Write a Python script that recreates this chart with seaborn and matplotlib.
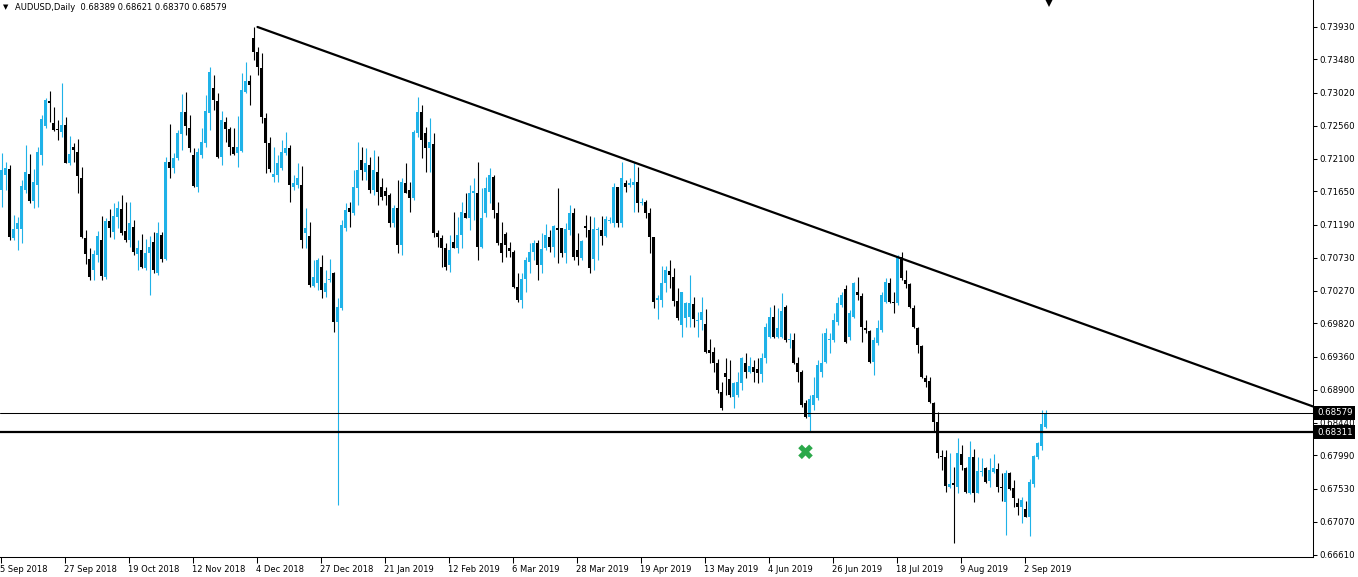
import numpy as np
import matplotlib
matplotlib.use("Agg")
import matplotlib.pyplot as plt
import matplotlib.transforms as mtransforms
import seaborn as sns

# AUDUSD daily candles (6 Sep 2018 .. 10 Sep 2019)
opens = [
    0.7167, 0.7188, 0.7196, 0.7100, 0.7113, 0.7113, 0.7167, 0.7189, 0.7152, 0.7174,
    0.7216, 0.7256, 0.7290, 0.7260, 0.7252, 0.7247, 0.7257, 0.7204, 0.7227, 0.7220,
    0.7184, 0.7100, 0.7071, 0.7056, 0.7077, 0.7098, 0.7046, 0.7124, 0.7109, 0.7130,
    0.7141, 0.7110, 0.7098, 0.7116, 0.7078, 0.7084, 0.7059, 0.7080, 0.7095, 0.7052,
    0.7105, 0.7071, 0.7206, 0.7198, 0.7211, 0.7245, 0.7275, 0.7253, 0.7216, 0.7171,
    0.7216, 0.7232, 0.7274, 0.7308, 0.7290, 0.7213, 0.7261, 0.7252, 0.7227, 0.7218,
    0.7221, 0.7303, 0.7318, 0.7378, 0.7358, 0.7336, 0.7267, 0.7232, 0.7185, 0.7188,
    0.7198, 0.7218, 0.7225, 0.7171, 0.7174, 0.7174, 0.7107, 0.7103, 0.7034, 0.7038,
    0.7060, 0.7026, 0.7042, 0.7052, 0.6984, 0.7003, 0.7114, 0.7142, 0.7135, 0.7170,
    0.7209, 0.7192, 0.7202, 0.7167, 0.7192, 0.7171, 0.7166, 0.7160, 0.7121, 0.7142,
    0.7091, 0.7177, 0.7167, 0.7156, 0.7246, 0.7275, 0.7246, 0.7225, 0.7231, 0.7107,
    0.7100, 0.7087, 0.7063, 0.7095, 0.7087, 0.7105, 0.7135, 0.7128, 0.7163, 0.7163,
    0.7088, 0.7135, 0.7164, 0.7185, 0.7135, 0.7094, 0.7106, 0.7087, 0.7081, 0.7033,
    0.7015, 0.7044, 0.7067, 0.7081, 0.7094, 0.7063, 0.7087, 0.7102, 0.7088, 0.7114,
    0.7114, 0.7080, 0.7112, 0.7135, 0.7084, 0.7073, 0.7117, 0.7112, 0.7071, 0.7112,
    0.7112, 0.7103, 0.7124, 0.7121, 0.7171, 0.7121, 0.7177, 0.7174, 0.7174, 0.7178,
    0.7149, 0.7150, 0.7135, 0.7102, 0.7015, 0.7015, 0.7038, 0.7055, 0.7046, 0.7013,
    0.6980, 0.6990, 0.6991, 0.7009, 0.6985, 0.6987, 0.6981, 0.6945, 0.6942, 0.6927,
    0.6887, 0.6913, 0.6905, 0.6880, 0.6883, 0.6899, 0.6927, 0.6915, 0.6922, 0.6919,
    0.6912, 0.6934, 0.6963, 0.6991, 0.6963, 0.6963, 0.7005, 0.6959, 0.6959, 0.6927,
    0.6915, 0.6872, 0.6852, 0.6869, 0.6879, 0.6915, 0.6928, 0.6959, 0.6959, 0.6984,
    0.7008, 0.7030, 0.6963, 0.6991, 0.7026, 0.7020, 0.6976, 0.6971, 0.6928, 0.6955,
    0.6973, 0.7012, 0.7038, 0.7012, 0.7010, 0.7074, 0.7042, 0.7037, 0.7003, 0.6976,
    0.6951, 0.6906, 0.6902, 0.6872, 0.6845, 0.6798, 0.6797, 0.6755, 0.6761, 0.6755,
    0.6801, 0.6782, 0.6747, 0.6797, 0.6747, 0.6776, 0.6782, 0.6764, 0.6776, 0.6780,
    0.6755, 0.6734, 0.6775, 0.6754, 0.6733, 0.6728, 0.6725, 0.6714, 0.6759, 0.6797,
    0.6812, 0.68389,
]
highs = [
    0.7218, 0.7206, 0.7202, 0.7132, 0.7130, 0.7181, 0.7229, 0.7217, 0.7196, 0.7227,
    0.7271, 0.7295, 0.7304, 0.7282, 0.7264, 0.7315, 0.7268, 0.7242, 0.7232, 0.7238,
    0.7199, 0.7112, 0.7087, 0.7084, 0.7110, 0.7131, 0.7128, 0.7141, 0.7149, 0.7152,
    0.7160, 0.7150, 0.7150, 0.7125, 0.7098, 0.7106, 0.7099, 0.7103, 0.7109, 0.7123,
    0.7109, 0.7213, 0.7259, 0.7218, 0.7250, 0.7300, 0.7303, 0.7271, 0.7225, 0.7225,
    0.7253, 0.7299, 0.7338, 0.7327, 0.7301, 0.7277, 0.7268, 0.7254, 0.7253, 0.7270,
    0.7329, 0.7344, 0.7327, 0.7393, 0.7365, 0.7357, 0.7274, 0.7240, 0.7227, 0.7216,
    0.7236, 0.7247, 0.7229, 0.7188, 0.7204, 0.7200, 0.7142, 0.7123, 0.7070, 0.7073,
    0.7077, 0.7056, 0.7071, 0.7053, 0.7017, 0.7125, 0.7149, 0.7150, 0.7195, 0.7234,
    0.7227, 0.7225, 0.7213, 0.7222, 0.7214, 0.7184, 0.7171, 0.7163, 0.7146, 0.7181,
    0.7184, 0.7204, 0.7178, 0.7250, 0.7296, 0.7285, 0.7254, 0.7267, 0.7246, 0.7112,
    0.7105, 0.7094, 0.7105, 0.7136, 0.7130, 0.7150, 0.7163, 0.7174, 0.7184, 0.7206,
    0.7170, 0.7185, 0.7198, 0.7188, 0.7150, 0.7123, 0.7109, 0.7095, 0.7084, 0.7052,
    0.7052, 0.7074, 0.7094, 0.7098, 0.7098, 0.7107, 0.7120, 0.7112, 0.7119, 0.7170,
    0.7114, 0.7121, 0.7146, 0.7142, 0.7107, 0.7098, 0.7132, 0.7131, 0.7130, 0.7116,
    0.7131, 0.7131, 0.7130, 0.7177, 0.7171, 0.7206, 0.7181, 0.7184, 0.7206, 0.7199,
    0.7156, 0.7153, 0.7142, 0.7102, 0.7021, 0.7062, 0.7062, 0.7070, 0.7059, 0.7031,
    0.7026, 0.7012, 0.7049, 0.7019, 0.6998, 0.7019, 0.7002, 0.6960, 0.6949, 0.6933,
    0.6901, 0.6934, 0.6931, 0.6901, 0.6915, 0.6936, 0.6941, 0.6936, 0.6931, 0.6934,
    0.6941, 0.6983, 0.7005, 0.7008, 0.7003, 0.7024, 0.7008, 0.6969, 0.6969, 0.6936,
    0.6917, 0.6876, 0.6883, 0.6908, 0.6931, 0.6969, 0.6976, 0.6969, 0.6996, 0.7019,
    0.7026, 0.7035, 0.7001, 0.7039, 0.7046, 0.7024, 0.6987, 0.6973, 0.6963, 0.6987,
    0.7026, 0.7045, 0.7045, 0.7026, 0.7077, 0.7081, 0.7056, 0.7038, 0.7008, 0.6977,
    0.6952, 0.6910, 0.6908, 0.6873, 0.6859, 0.6806, 0.6806, 0.6802, 0.6783, 0.6823,
    0.6813, 0.6783, 0.6819, 0.6808, 0.6797, 0.6795, 0.6783, 0.6795, 0.6801, 0.6788,
    0.6775, 0.6779, 0.6776, 0.6765, 0.6740, 0.6741, 0.6736, 0.6766, 0.6800, 0.6818,
    0.6862, 0.68621,
]
lows = [
    0.7143, 0.7167, 0.7098, 0.7098, 0.7084, 0.7094, 0.7163, 0.7149, 0.7142, 0.7143,
    0.7202, 0.7253, 0.7261, 0.7249, 0.7236, 0.7240, 0.7204, 0.7202, 0.7206, 0.7163,
    0.7100, 0.7064, 0.7042, 0.7042, 0.7067, 0.7042, 0.7044, 0.7102, 0.7099, 0.7114,
    0.7105, 0.7095, 0.7088, 0.7077, 0.7056, 0.7059, 0.7056, 0.7021, 0.7052, 0.7049,
    0.7067, 0.7070, 0.7184, 0.7191, 0.7209, 0.7222, 0.7243, 0.7220, 0.7171, 0.7164,
    0.7211, 0.7227, 0.7250, 0.7278, 0.7211, 0.7202, 0.7234, 0.7216, 0.7216, 0.7199,
    0.7220, 0.7301, 0.7285, 0.7347, 0.7327, 0.7260, 0.7191, 0.7192, 0.7178, 0.7178,
    0.7195, 0.7216, 0.7150, 0.7167, 0.7170, 0.7087, 0.7087, 0.7033, 0.7033, 0.7028,
    0.7017, 0.7019, 0.7039, 0.6970, 0.6730, 0.7001, 0.7110, 0.7116, 0.7132, 0.7146,
    0.7181, 0.7181, 0.7163, 0.7160, 0.7146, 0.7153, 0.7146, 0.7116, 0.7116, 0.7080,
    0.7077, 0.7163, 0.7136, 0.7153, 0.7240, 0.7211, 0.7192, 0.7192, 0.7102, 0.7088,
    0.7060, 0.7056, 0.7053, 0.7087, 0.7080, 0.7087, 0.7128, 0.7112, 0.7125, 0.7070,
    0.7087, 0.7130, 0.7149, 0.7128, 0.7091, 0.7067, 0.7074, 0.7074, 0.7031, 0.7012,
    0.7003, 0.7026, 0.7052, 0.7070, 0.7042, 0.7052, 0.7084, 0.7081, 0.7074, 0.7066,
    0.7074, 0.7066, 0.7105, 0.7070, 0.7063, 0.7070, 0.7102, 0.7052, 0.7056, 0.7070,
    0.7091, 0.7102, 0.7121, 0.7116, 0.7116, 0.7116, 0.7164, 0.7171, 0.7136, 0.7136,
    0.7146, 0.7128, 0.7080, 0.7003, 0.6988, 0.7005, 0.7026, 0.7031, 0.7006, 0.6987,
    0.6963, 0.6977, 0.6977, 0.6977, 0.6963, 0.6973, 0.6941, 0.6927, 0.6915, 0.6886,
    0.6862, 0.6883, 0.6880, 0.6865, 0.6880, 0.6890, 0.6906, 0.6913, 0.6901, 0.6899,
    0.6901, 0.6927, 0.6962, 0.6962, 0.6962, 0.6962, 0.6956, 0.6948, 0.6926, 0.6901,
    0.6866, 0.6851, 0.6831, 0.6862, 0.6876, 0.6908, 0.6927, 0.6941, 0.6956, 0.6980,
    0.7005, 0.6955, 0.6959, 0.6990, 0.7015, 0.6956, 0.6969, 0.6927, 0.6910, 0.6952,
    0.6970, 0.7010, 0.7010, 0.6996, 0.7008, 0.7042, 0.7031, 0.7003, 0.6976, 0.6941,
    0.6906, 0.6894, 0.6872, 0.6831, 0.6795, 0.6779, 0.6748, 0.6754, 0.6678, 0.6747,
    0.6779, 0.6747, 0.6746, 0.6734, 0.6747, 0.6770, 0.6761, 0.6755, 0.6775, 0.6748,
    0.6736, 0.6689, 0.6751, 0.6728, 0.6716, 0.6705, 0.6714, 0.6687, 0.6755, 0.6794,
    0.6806, 0.68370,
]
closes = [
    0.7195, 0.7198, 0.7102, 0.7113, 0.7121, 0.7173, 0.7192, 0.7152, 0.7178, 0.7220,
    0.7265, 0.7292, 0.7288, 0.7250, 0.7250, 0.7257, 0.7204, 0.7217, 0.7222, 0.7186,
    0.7102, 0.7078, 0.7046, 0.7078, 0.7103, 0.7048, 0.7124, 0.7114, 0.7131, 0.7142,
    0.7107, 0.7098, 0.7121, 0.7081, 0.7087, 0.7060, 0.7080, 0.7088, 0.7056, 0.7107,
    0.7071, 0.7206, 0.7198, 0.7211, 0.7246, 0.7275, 0.7256, 0.7225, 0.7173, 0.7220,
    0.7234, 0.7277, 0.7331, 0.7292, 0.7213, 0.7264, 0.7252, 0.7227, 0.7217, 0.7227,
    0.7306, 0.7318, 0.7313, 0.7358, 0.7338, 0.7268, 0.7232, 0.7196, 0.7189, 0.7204,
    0.7220, 0.7225, 0.7174, 0.7177, 0.7184, 0.7098, 0.7114, 0.7035, 0.7046, 0.7070,
    0.7028, 0.7038, 0.7044, 0.6984, 0.7005, 0.7118, 0.7139, 0.7136, 0.7171, 0.7195,
    0.7195, 0.7204, 0.7167, 0.7195, 0.7164, 0.7157, 0.7159, 0.7121, 0.7142, 0.7091,
    0.7178, 0.7163, 0.7156, 0.7247, 0.7275, 0.7236, 0.7225, 0.7234, 0.7107, 0.7102,
    0.7087, 0.7060, 0.7084, 0.7087, 0.7105, 0.7136, 0.7128, 0.7163, 0.7166, 0.7088,
    0.7128, 0.7170, 0.7188, 0.7139, 0.7094, 0.7080, 0.7091, 0.7082, 0.7033, 0.7015,
    0.7044, 0.7070, 0.7081, 0.7094, 0.7063, 0.7085, 0.7105, 0.7088, 0.7117, 0.7112,
    0.7080, 0.7113, 0.7135, 0.7074, 0.7074, 0.7096, 0.7114, 0.7059, 0.7113, 0.7113,
    0.7103, 0.7127, 0.7125, 0.7171, 0.7121, 0.7184, 0.7171, 0.7177, 0.7178, 0.7149,
    0.7150, 0.7135, 0.7102, 0.7012, 0.7017, 0.7038, 0.7056, 0.7049, 0.7013, 0.6990,
    0.7026, 0.7010, 0.7010, 0.6988, 0.6987, 0.6998, 0.6942, 0.6941, 0.6927, 0.6890,
    0.6865, 0.6908, 0.6883, 0.6899, 0.6901, 0.6934, 0.6915, 0.6923, 0.6915, 0.6913,
    0.6934, 0.6977, 0.6991, 0.6963, 0.6976, 0.6999, 0.6959, 0.6960, 0.6927, 0.6915,
    0.6869, 0.6852, 0.6877, 0.6883, 0.6924, 0.6927, 0.6969, 0.6960, 0.6987, 0.7010,
    0.7021, 0.6956, 0.6996, 0.7038, 0.7021, 0.6977, 0.6973, 0.6928, 0.6959, 0.6976,
    0.7021, 0.7039, 0.7012, 0.7010, 0.7074, 0.7045, 0.7037, 0.7005, 0.6977, 0.6952,
    0.6908, 0.6901, 0.6873, 0.6845, 0.6802, 0.6797, 0.6757, 0.6759, 0.6758, 0.6802,
    0.6786, 0.6748, 0.6797, 0.6747, 0.6777, 0.6777, 0.6762, 0.6779, 0.6782, 0.6755,
    0.6754, 0.6775, 0.6752, 0.6740, 0.6728, 0.6737, 0.6714, 0.6762, 0.6798, 0.6816,
    0.6842, 0.68579,
]

date_labels = ["5 Sep 2018", "27 Sep 2018", "19 Oct 2018", "12 Nov 2018", "4 Dec 2018",
               "27 Dec 2018", "21 Jan 2019", "12 Feb 2019", "6 Mar 2019", "28 Mar 2019",
               "19 Apr 2019", "13 May 2019", "4 Jun 2019", "26 Jun 2019", "18 Jul 2019",
               "9 Aug 2019", "2 Sep 2019"]
price_ticks = [0.73930, 0.73480, 0.73020, 0.72560, 0.72100, 0.71650, 0.71190, 0.70730,
               0.70270, 0.69820, 0.69360, 0.68900, 0.68440, 0.67990, 0.67530, 0.67070, 0.66610]

support_level = 0.68311
trend_bars = [64, 225]          # bars the trendline is anchored to
trend_prices = [0.7393, 0.7072]
mark_bar, mark_price = 201, 0.6804

sns.set_theme(style="white")
plt.rcParams["font.family"] = ["DejaVu Sans"]

W, H = 1358, 577
fig = plt.figure(figsize=(W / 100, H / 100), dpi=100)
ax = fig.add_axes([0, 20 / H, 1313 / W, 557 / H])

o = np.array(opens)
hi = np.array(highs)
lo = np.array(lows)
c = np.array(closes)
x = np.arange(len(c))
bull, bear = "#1fb2e8", "#000000"
cols = np.where(c >= o, bull, bear)

ax.vlines(x, lo, hi, colors=cols, linewidth=0.8, zorder=2)
bars = ax.bar(x, np.maximum(np.abs(c - o), 0.00014), bottom=np.minimum(o, c), width=0.8,
              color=cols, linewidth=0, zorder=3)

# 4 px per bar
xmin = -0.375
xmax = xmin + 1313 / 4
ax.set_xlim(xmin, xmax)
ax.set_ylim(0.66582, 0.74304)

# trendline from the Dec 2018 high through the Jul 2019 high, extended right
slope = (trend_prices[1] - trend_prices[0]) / (trend_bars[1] - trend_bars[0])
tx = [trend_bars[0], xmax]
ty = [trend_prices[0], trend_prices[0] + slope * (xmax - trend_bars[0])]
sns.lineplot(x=tx, y=ty, color="black", linewidth=1.6, ax=ax, zorder=4)

ax.axhline(closes[-1], color="black", linewidth=0.75, zorder=4)
ax.axhline(support_level, color="black", linewidth=1.6, zorder=4)

sns.scatterplot(x=[mark_bar], y=[mark_price], marker="X", s=110, color="#2ba84a",
                edgecolor="none", ax=ax, zorder=5)

# chart-shift marker at the top
ax.plot([len(c) - 0.25], [1.0], transform=mtransforms.blended_transform_factory(ax.transData, ax.transAxes),
        marker="v", markersize=10, markeredgewidth=0, color="black", clip_on=True, zorder=6)

# axes styling
for s in ["top", "left"]:
    ax.spines[s].set_visible(False)
for s in ["right", "bottom"]:
    ax.spines[s].set_visible(True)
    ax.spines[s].set_color("black")
    ax.spines[s].set_linewidth(0.75)
ax.grid(False)
ax.set_xlabel("")
ax.set_ylabel("")

ax.yaxis.tick_right()
ax.set_yticks(price_ticks)
ax.set_yticklabels([f"{v:.5f}" for v in price_ticks])
ax.tick_params(axis="y", direction="out", length=3, width=0.75, pad=1.5,
               labelsize=6.2, colors="black", right=True, left=False)

ax.set_xticks([16 * i - 0.25 for i in range(len(date_labels))])
ax.set_xticklabels(date_labels, ha="left")
ax.tick_params(axis="x", direction="out", length=4, width=0.75, pad=1.5,
               labelsize=6, colors="black", bottom=True)

# price badges on the right axis
badge_tr = mtransforms.offset_copy(
    mtransforms.blended_transform_factory(ax.transAxes, ax.transData), fig=fig, x=4, y=0, units="dots")
for val in [closes[-1], support_level]:
    ax.text(1.0, val, f"{val:.5f}", transform=badge_tr, ha="left", va="center",
            fontsize=6.2, color="white", clip_on=False, zorder=10,
            bbox=dict(boxstyle="square,pad=0.3", fc="black", ec="none"))

fig.text(3 / W, 1 - 7 / H, "\u25bc", fontsize=5, va="center", ha="left", color="black")
fig.text(15 / W, 1 - 7 / H, "AUDUSD,Daily  0.68389 0.68621 0.68370 0.68579",
         fontsize=6, va="center", ha="left", color="black")

fig.savefig("out.png", dpi=100)
